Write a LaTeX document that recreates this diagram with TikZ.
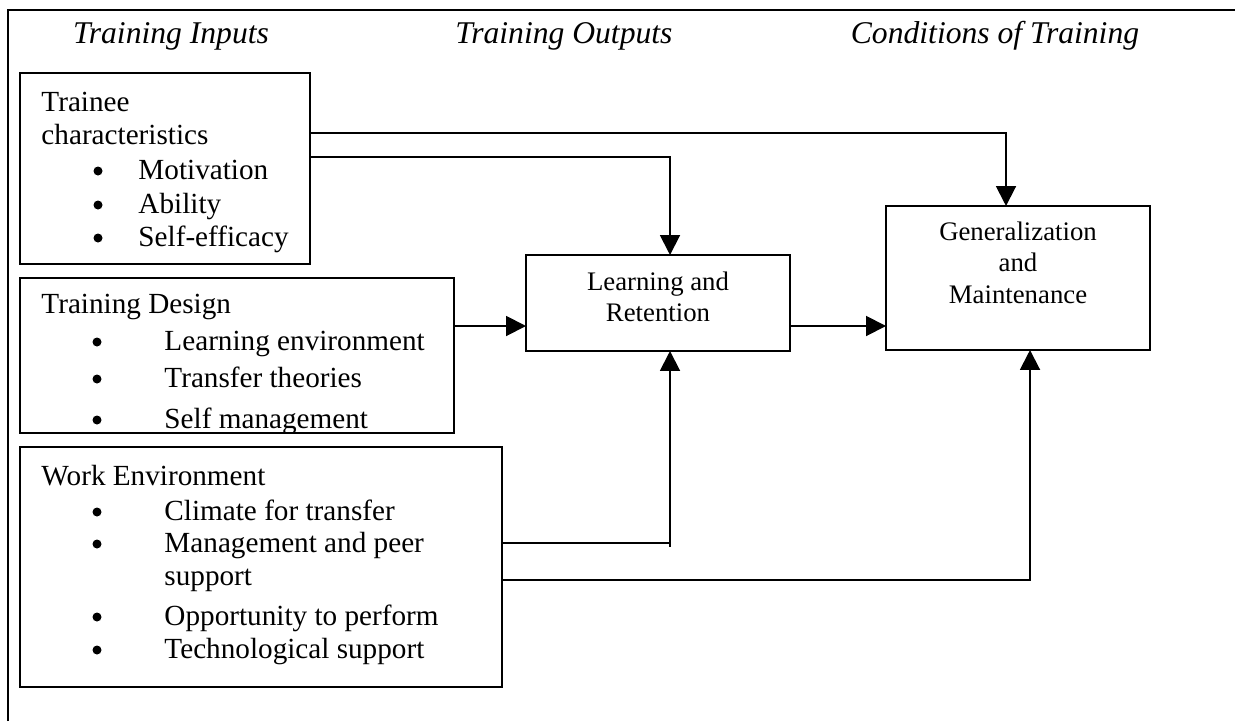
\documentclass[tikz,border=0pt]{standalone}
\usepackage{fontspec}
\setmainfont{Liberation Serif}
\usetikzlibrary{arrows.meta}
\newcommand{\px}{0.411pt}
\tikzset{
	box/.style={draw, line width=0.8pt, inner sep=0pt, outer sep=0pt, anchor=north west},
	txt/.style={anchor=base west, inner sep=0pt, font=\fontsize{12}{14}\selectfont},
	mid/.style={anchor=base, inner sep=0pt, font=\fontsize{11}{13}\selectfont},
	head/.style={anchor=base, inner sep=0pt, font=\itshape\fontsize{13}{15}\selectfont},
	arr/.style={line width=0.8pt, -{Triangle[length=8.2pt,width=8.2pt]}}
}
\begin{document}
\begin{tikzpicture}[x=\px,y=-\px]
		\useasboundingbox (0,0) rectangle (1235,721);
		\draw [line width=0.8pt] (8,721) -- (8,10) -- (1235,10);
		\node[head] (hIn) at (171,44) {Training Inputs};
		\node[head] (hOut) at (564,44) {Training Outputs};
		\node[head] (hCond) at (995,44) {Conditions of Training};
		\node[box, minimum width=290*\px, minimum height=191*\px] (trainee) at (20,73) {};
		\node[box, minimum width=434*\px, minimum height=155*\px] (design) at (20,278) {};
		\node[box, minimum width=482*\px, minimum height=240*\px] (work) at (20,447) {};
		\node[box, minimum width=264*\px, minimum height=96*\px] (learn) at (526,255) {};
		\node[box, minimum width=264*\px, minimum height=144*\px] (gen) at (886,206) {};
		\node[txt] (trT1) at (41,111) {Trainee};
		\node[txt] (trT2) at (41,145) {characteristics};
		\foreach \y/\t [count=\i] in {179/Motivation, 213/Ability, 246/Self-efficacy}{
			\fill (98,\y-8) circle (4.5);
			\node[txt] (trI\i) at (138,\y) {\t};
		}
		\begin{scope}
			\clip (20,278) rectangle (454,433);
			\node[txt] (deT) at (41,313) {Training Design};
			\foreach \y/\t [count=\i] in {350/Learning environment, 387/Transfer theories, 428/Self management}{
				\fill (97,\y-8) circle (4.5);
				\node[txt] (deI\i) at (164,\y) {\t};
			}
		\end{scope}
		\node[txt] (woT) at (41,485) {Work Environment};
		\foreach \y/\t [count=\i] in {520/Climate for transfer, 552/Management and peer, 625/Opportunity to perform, 658/Technological support}{
			\fill (97,\y-8) circle (4.5);
			\node[txt] (woI\i) at (164,\y) {\t};
		}
		\node[txt] (woI2b) at (164,585) {support};
		\node[mid] (leA) at (658,290) {Learning and};
		\node[mid] (leB) at (658,321) {Retention};
		\node[mid] (geA) at (1018,240) {Generalization};
		\node[mid] (geB) at (1018,271) {and};
		\node[mid] (geC) at (1018,303) {Maintenance};
		\draw[arr] ([yshift=-60*\px]trainee.north east) -| ([xshift=120*\px]gen.north west);
		\draw[arr] ([yshift=-84*\px]trainee.north east) -| ([xshift=144*\px]learn.north west);
		\draw[arr] ([yshift=-48*\px]design.north east) -- ([yshift=-71*\px]learn.north west);
		\draw[arr] ([yshift=-71*\px]learn.north east) -- ([yshift=-120*\px]gen.north west);
		\draw[arr] ([yshift=-96*\px]work.north east) -| ([xshift=144*\px]learn.south west);
		\draw[line width=0.8pt] ([xshift=144*\px]learn.south west) ++(0,188) -- ++(0,8);
		\draw[arr] ([yshift=-133*\px]work.north east) -| ([xshift=144*\px]gen.south west);
	\end{tikzpicture}
\end{document}
